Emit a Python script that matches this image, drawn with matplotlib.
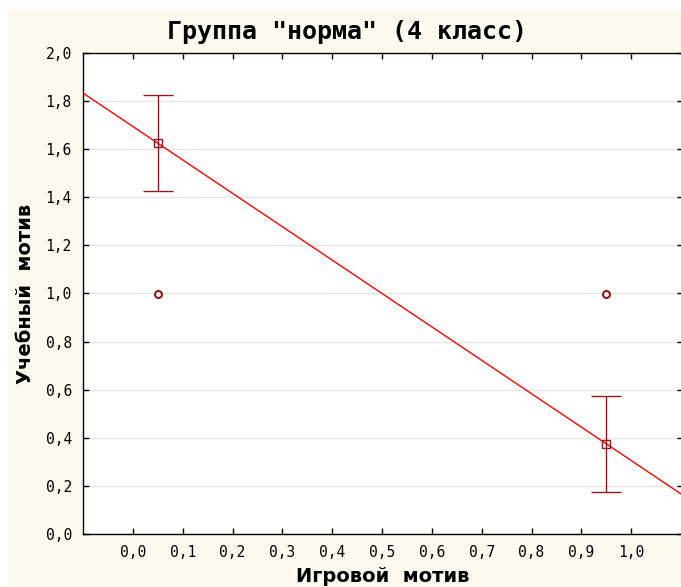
import numpy as np
import matplotlib.pyplot as plt
from matplotlib.patches import Rectangle
from matplotlib.ticker import FuncFormatter, MultipleLocator

# group means with error bars
x_means = [0.05, 0.95]
y_means = [1.625, 0.375]
y_err = [0.2, 0.2]

# raw points (open circles)
x_points = [0.05, 0.95]
y_points = [1.0, 1.0]

x_ticks = [0.0, 0.1, 0.2, 0.3, 0.4, 0.5, 0.6, 0.7, 0.8, 0.9, 1.0]

title = 'Группа "норма" (4 класс)'
x_label = "Игровой  мотив"
y_label = "Учебный  мотив"

dark_red = "#8b1a1a"
cream = "#fdf9ee"

fig = plt.figure(figsize=(6.81, 5.87), dpi=100, facecolor="white")
# cream panel behind everything
fig.patches.append(Rectangle((8 / 681, 0), 1, 1 - 10 / 587, transform=fig.transFigure,
                             facecolor=cream, edgecolor="none", zorder=-5))

ax = fig.add_axes([83 / 681, 53 / 587, 600 / 681, 481 / 587])
ax.set_facecolor("white")

ax.set_xlim(-0.1, 1.104)
ax.set_ylim(0, 2.0)

# regression line through the means
slope, intercept = np.polyfit(x_means, y_means, 1)
xs = np.array(ax.get_xlim())
ax.plot(xs, slope * xs + intercept, color="red", linewidth=1, zorder=3)

ax.errorbar(x_means, y_means, yerr=y_err, fmt="s", color=dark_red, markersize=6,
            markerfacecolor="none", markeredgewidth=1, elinewidth=1, capsize=10.5,
            capthick=1, zorder=4)
ax.plot(x_points, y_points, "o", color=dark_red, markersize=5, markerfacecolor="none",
        markeredgewidth=1.5, zorder=4)

ax.set_xticks(x_ticks)
ax.yaxis.set_major_locator(MultipleLocator(0.2))
comma = FuncFormatter(lambda v, p: f"{v:.1f}".replace(".", ","))
ax.xaxis.set_major_formatter(comma)
ax.yaxis.set_major_formatter(comma)

ax.grid(axis="y", color="#e6e6e6", linewidth=1)
ax.set_axisbelow(True)

ax.tick_params(direction="in", length=4, width=1, top=True, right=True,
               labelsize=10.5, pad=8, colors="black")
for lbl in ax.get_xticklabels() + ax.get_yticklabels():
    lbl.set_family("DejaVu Sans Mono")
for s in ax.spines.values():
    s.set_linewidth(1)

ax.set_xlabel(x_label, fontsize=14, fontweight="bold", labelpad=5)
ax.set_ylabel(y_label, fontsize=14, fontweight="bold", labelpad=8)

fig.text(0.51, 1 - 32 / 587, title, ha="center", va="center", fontsize=18,
         fontweight="bold", family="DejaVu Sans Mono")

fig.savefig("out.png", dpi=100, facecolor=fig.get_facecolor())
